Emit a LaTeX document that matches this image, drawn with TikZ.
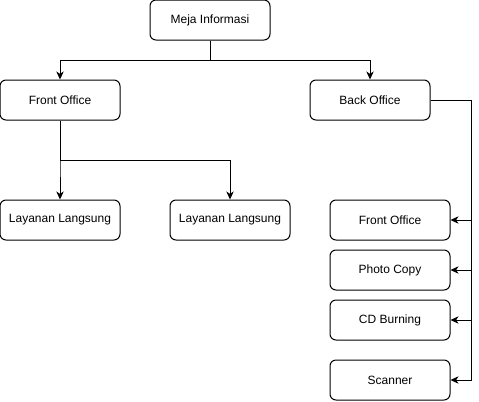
\documentclass[tikz,border=0pt]{standalone}
\usepackage{fontspec}
\setmainfont{Liberation Sans}
\usetikzlibrary{arrows.meta,positioning,calc}

\begin{document}
\begin{tikzpicture}[x=0.75pt,y=-0.75pt,
  box/.style={draw, rounded corners=4.5pt, minimum width=90pt, minimum height=30pt,
    line width=0.75pt, font=\fontsize{9}{11}\selectfont},
  link/.style={line width=0.75pt, -{Stealth[length=6pt,width=5.5pt,inset=1.8pt]}}]
\useasboundingbox (0,0) rectangle (479,401);
\node[box] (meja) at (210,20)  {Meja Informasi};
\node[box] (fo)   at (60,100)  {Front Office};
\node[box] (bo)   at (370,100) {Back Office};
\node[box] (ll1)  at (60,220)  {Layanan Langsung};
\node[box] (ll2)  at (230,220) {Layanan Langsung};
\node[box] (rfo)  at (390,220) {Front Office};
\node[box] (pc)   at (390,270) {Photo Copy};
\node[box] (cd)   at (390,320) {CD Burning};
\node[box] (sc)   at (390,380) {Scanner};
% top level
\foreach \b in {fo,bo} \draw[link] (meja.south) -- ++(0,20) -| (\b.north);
% front office branch
\foreach \b in {ll1,ll2} \draw[link] (fo.south) -- ++(0,40) -| (\b.north);
% back office trunk on the right
\foreach \b in {rfo,pc,cd,sc} \draw[link] (bo.east) -- ++(41,0) |- (\b.east);
\end{tikzpicture}
\end{document}
